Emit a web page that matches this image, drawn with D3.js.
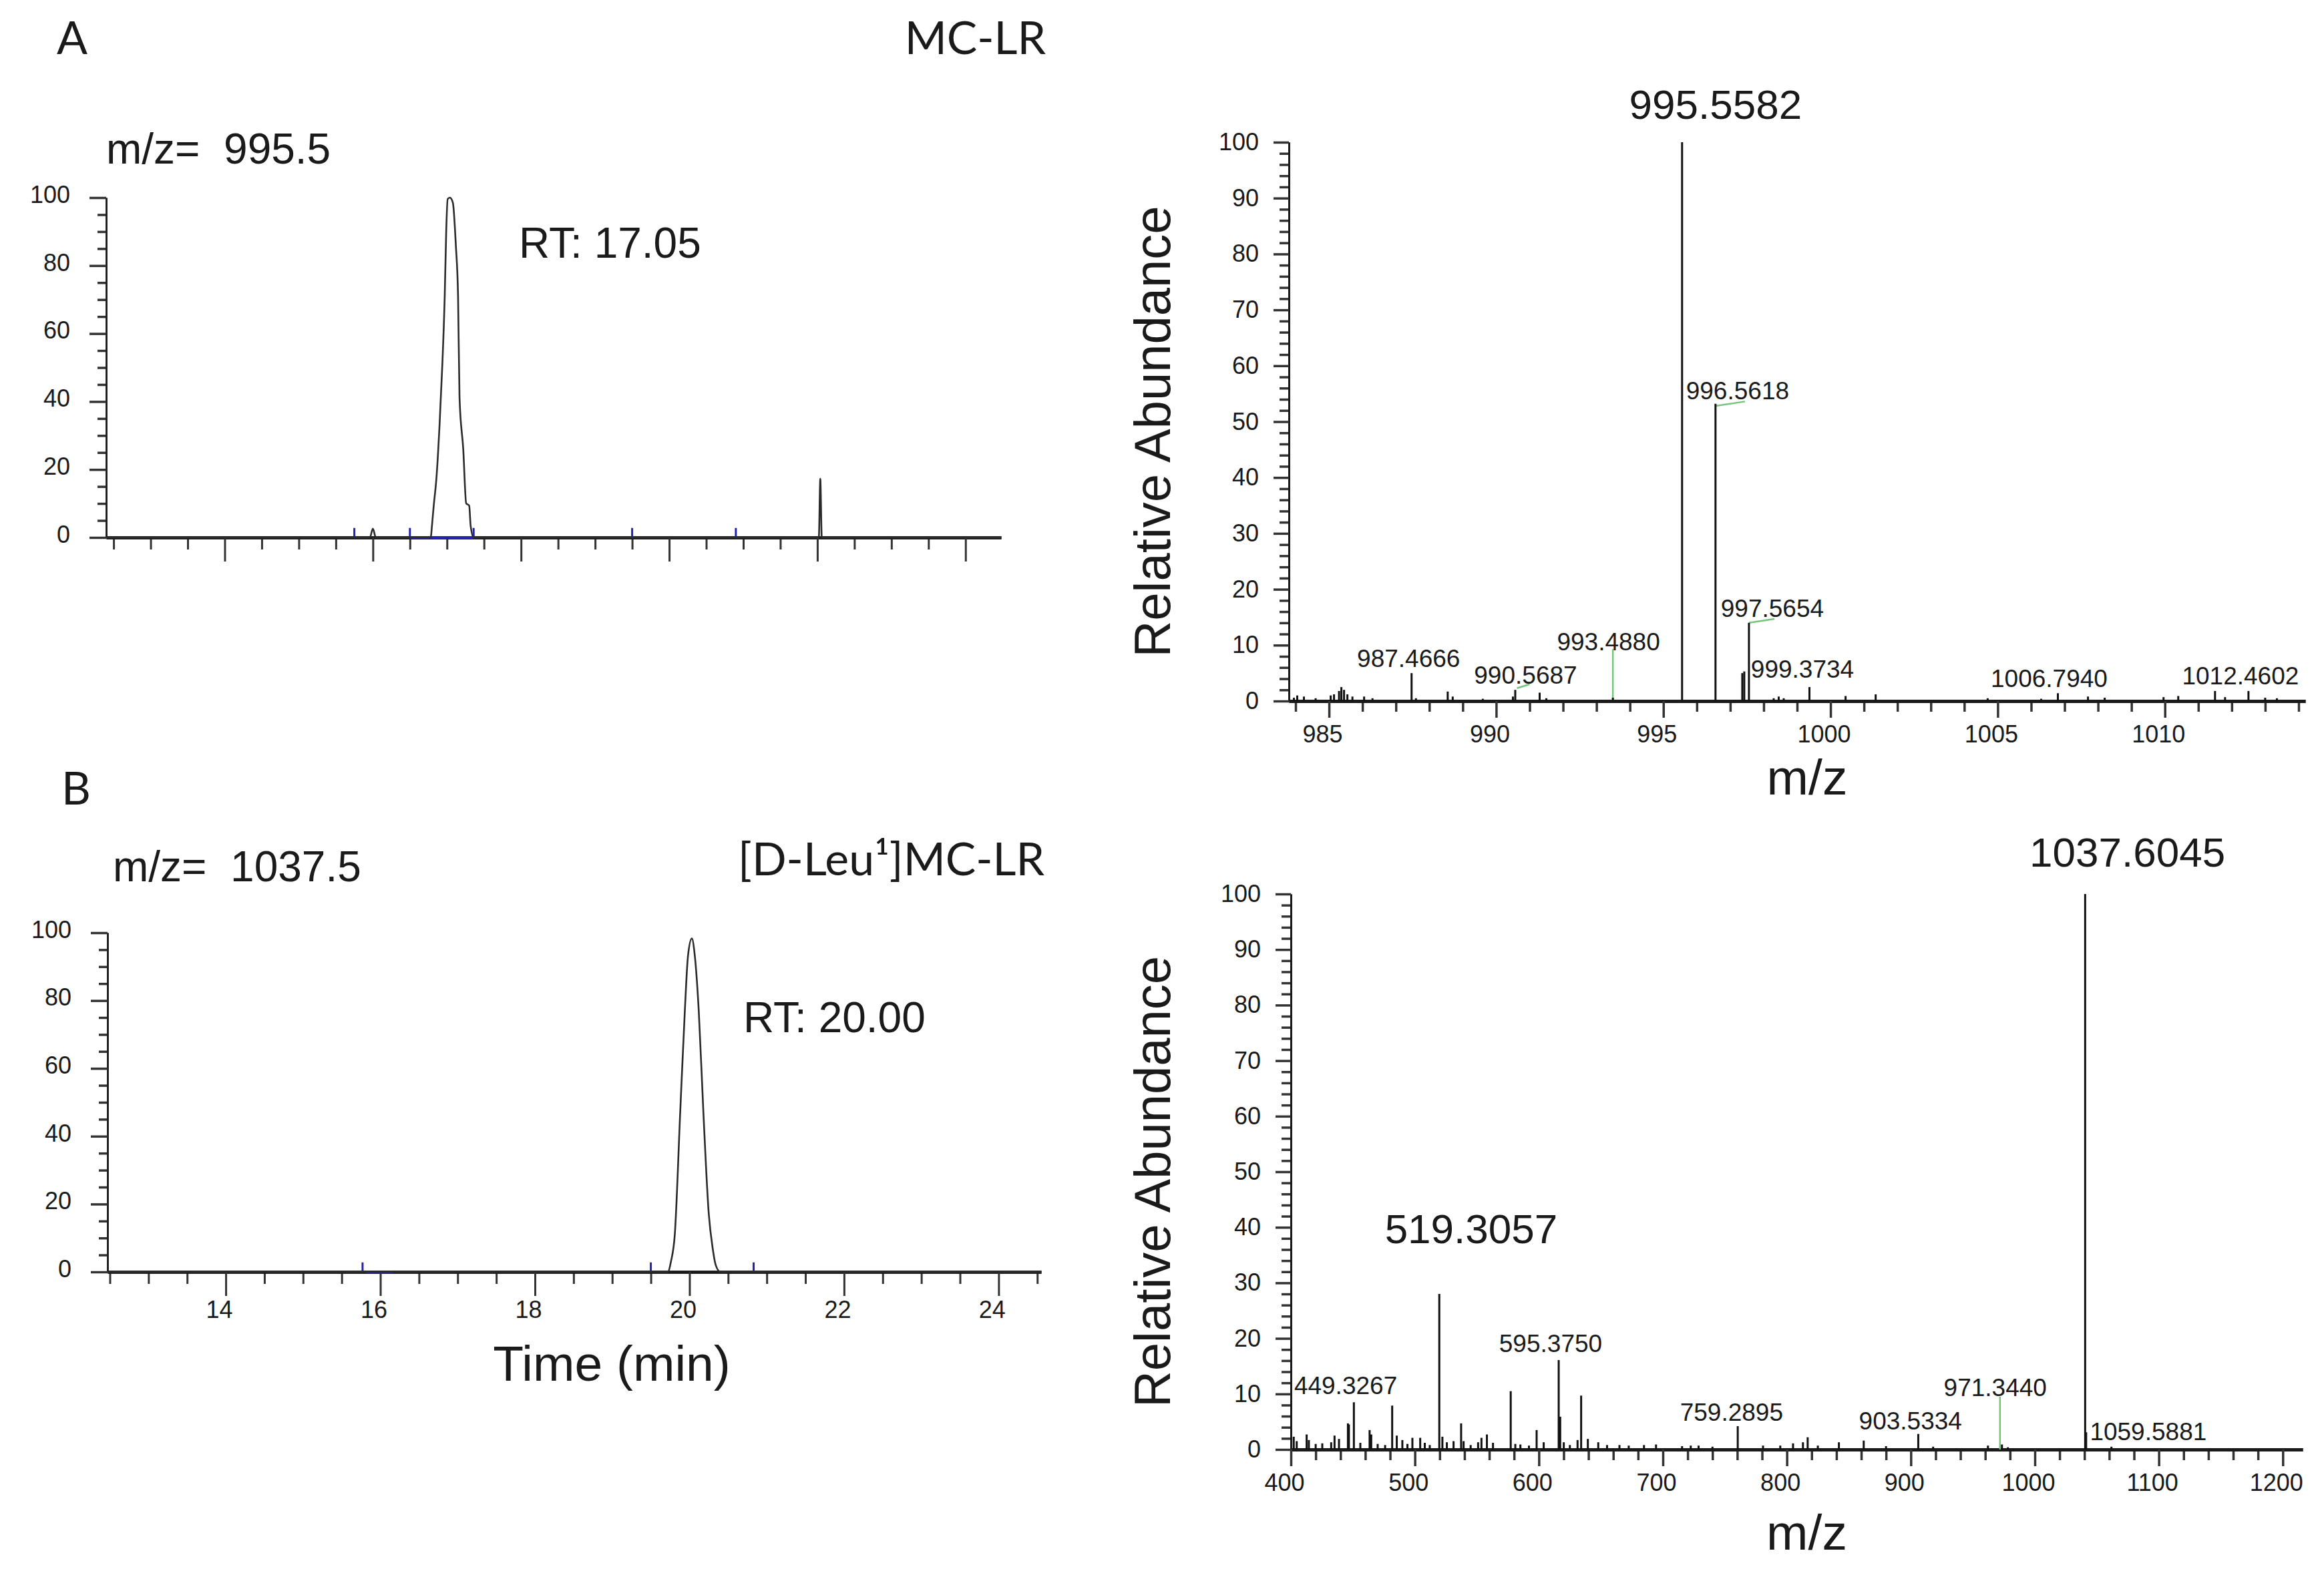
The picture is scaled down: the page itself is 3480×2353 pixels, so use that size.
<!DOCTYPE html>
<html>
<head>
<meta charset="utf-8">
<script src="https://cdn.jsdelivr.net/npm/d3@7"></script>
<style>
  body { margin: 0; background: #fff; }
</style>
</head>
<body>
<svg id="fig"></svg>
<script>
// ---- chromatogram A : m/z 995.5 (MC-LR) ----
const chromA_time = [12.40, 15.96, 16.00, 16.04, 16.78, 16.80, 16.82, 16.86, 16.90, 16.94, 16.97, 16.99, 17.01, 17.04,
                     17.08, 17.12, 17.15, 17.17, 17.22, 17.26, 17.30, 17.32, 17.36, 22.02, 22.04, 22.06, 24.48];
const chromA_int  = [0, 0, 2.6, 0, 0, 4, 9, 18, 33, 52, 71, 90, 99.6, 100,
                     98.5, 86, 71, 41, 26, 10, 9.4, 3.4, 0, 0, 17.3, 0, 0];
const chromA_marks = [15.75, 16.50, 17.36, 19.50, 20.90];   // blue integration marks
const chromA_base  = [16.50, 17.36];

// ---- chromatogram B : m/z 1037.5 ([D-Leu1]MC-LR) ----
const chromB_time = [12.47, 19.72, 19.76, 19.81, 19.88, 19.94, 19.98, 20.03, 20.07, 20.12, 20.18, 20.25, 20.30, 20.34, 20.40, 24.55];
const chromB_int  = [0, 0, 3, 11, 47, 77, 93, 98.3, 93, 77, 47, 17, 7, 2, 0, 0];
const chromB_marks = [15.77, 19.50, 20.83];
const chromB_base  = [15.82, 16.17];

const chromYTicks = [0, 20, 40, 60, 80, 100];
const chromXTicks = [14, 16, 18, 20, 22, 24];

// ---- mass spectrum A ----
const specA_mz  = [983.95, 984.05, 984.25, 984.6, 985.05, 985.15, 985.3, 985.37, 985.45, 985.55,
                   985.7, 986.05, 986.3, 987.47, 987.6, 988.55, 988.7, 989.6, 990.5, 990.57,
                   991.3, 991.5, 993.49, 995.56, 996.56, 997.36, 997.42, 997.56, 998.3, 998.45,
                   998.6, 999.37, 1000.45, 1001.35, 1004.7, 1006.3, 1006.8, 1007.7, 1008.2, 1009.96,
                   1010.4, 1011.5, 1011.8, 1012.5, 1013.0, 1013.35];
const specA_int = [0.6, 1.0, 0.8, 0.5, 1.0, 1.2, 1.8, 2.5, 2.0, 1.2,
                   0.8, 0.8, 0.5, 5.0, 0.5, 1.7, 0.8, 0.4, 0.8, 2.0,
                   1.5, 0.5, 0.6, 100, 53.2, 5.0, 5.3, 14.0, 0.5, 0.8,
                   0.5, 2.5, 0.9, 1.2, 0.5, 0.4, 1.4, 0.8, 0.6, 0.7,
                   0.9, 1.8, 0.7, 1.8, 0.6, 0.5];
const specA_labels   = ["996.5618", "997.5654", "987.4666", "990.5687", "993.4880", "999.3734", "1006.7940", "1012.4602"];
const specA_labelMz  = [997.22, 998.26, 987.38, 990.88, 993.36, 999.16, 1006.54, 1012.26];
const specA_labelAb  = [54.0, 15.0, 6.1, 3.1, 9.1, 4.2, 2.5, 3.0];
const specA_big      = ["995.5582"];
const specA_bigMz    = [996.56];
const specA_bigAb    = [104.2];
const specA_leadMz   = [[990.62, 991.0], [993.49, 993.49], [996.56, 997.44], [997.56, 998.32]];
const specA_leadAb   = [[2.3, 3.0], [0, 9.3], [52.8, 53.6], [14.0, 14.7]];
const specAXTicks = [985, 990, 995, 1000, 1005, 1010];

// ---- mass spectrum B ----
const specB_mz  = [402.3, 404.7, 412.7, 414.5, 420, 425.3, 432.5, 435.2, 438.8, 446,
                   446.8, 450.8, 456, 463.5, 464.8, 470, 476, 481.7, 485.4, 489.9,
                   494, 498, 504.3, 508, 512, 519.7, 522.2, 525.8, 531.2, 537.3,
                   539.3, 545, 551, 553.7, 558.1, 563, 577.3, 581, 585.1, 592,
                   598.2, 603.9, 616, 617.2, 620.1, 625, 631.2, 634.1, 639.5, 647.9,
                   655, 665, 672.5, 684.8, 694.5, 715.5, 722.5, 728.8, 740, 760.4,
                   780.8, 794.7, 805, 813, 816.8, 825, 842, 862, 880, 906,
                   918, 962.2, 973.5, 978.3, 1040.6, 1041.4, 1061.8];
const specB_int = [2.3, 1.5, 2.7, 1.7, 1.0, 1.1, 1.3, 2.5, 1.9, 4.7,
                   4.5, 8.5, 1.2, 3.5, 2.7, 1.0, 0.8, 7.9, 2.5, 1.7,
                   1.0, 2.1, 2.1, 1.2, 0.8, 28.0, 2.3, 1.3, 1.5, 4.7,
                   1.5, 0.8, 1.3, 2.1, 2.7, 1.2, 10.5, 1.0, 0.9, 0.7,
                   3.5, 1.3, 16.1, 5.9, 1.3, 0.8, 1.7, 9.7, 1.9, 1.3,
                   0.8, 0.8, 0.7, 0.8, 0.9, 0.6, 0.7, 0.7, 0.5, 4.2,
                   0.7, 0.7, 1.1, 1.3, 2.2, 0.7, 1.3, 1.6, 0.6, 2.8,
                   0.5, 0.7, 0.9, 0.4, 100, 3.1, 0.5];
const specB_labels   = ["449.3267", "595.3750", "759.2895", "903.5334", "971.3440", "1059.5881"];
const specB_labelMz  = [444.2, 609.5, 755.4, 899.7, 968.1, 1091.5];
const specB_labelAb  = [10.0, 17.5, 5.2, 3.6, 9.6, 1.7];
const specB_big      = ["1037.6045", "519.3057"];
const specB_bigMz    = [1074.7, 545.4];
const specB_bigAb    = [104.9, 37.1];
const specB_leadMz   = [[971.9, 971.9]];
const specB_leadAb   = [[0, 9.5]];
const specBXTicks = [400, 500, 600, 700, 800, 900, 1000, 1100, 1200];

const specYTicks = [0, 10, 20, 30, 40, 50, 60, 70, 80, 90, 100];

// ------------------------------------------------------------
const W = 3480, H = 2353;
const XCAL = "'Liberation Sans', Arial, sans-serif";
const CALIB = "Lato, Carlito, Calibri, sans-serif";
const INK = '#1a1a1a';

const svg = d3.select('#fig').attr('width', W).attr('height', H);
svg.append('rect').attr('width', W).attr('height', H).attr('fill', '#fff');

function styleAxis(g, lineW, domainW) {
    g.selectAll('.tick line').attr('stroke', '#333').attr('stroke-width', lineW);
    g.select('.domain').attr('stroke', INK).attr('stroke-width', domainW);
    g.selectAll('text').attr('font-family', XCAL).attr('font-size', 36).attr('fill', INK);
}

function text(x, y, str, size, family, anchor) {
    return svg.append('text')
        .attr('x', x).attr('y', y)
        .attr('font-family', family).attr('font-size', size)
        .attr('fill', INK).attr('text-anchor', anchor || 'start')
        .text(str);
}

function chromatogram(c) {
    const x = d3.scaleLinear().domain(c.xDomain).range(c.xRange);
    const y = d3.scaleLinear().domain([0, 100]).range(c.yRange);
    const g = svg.append('g');

    // y axis
    const yMinor = d3.range(0, 101, 5).filter(v => !chromYTicks.includes(v));
    g.append('g').attr('transform', `translate(${c.xRange[0]},0)`)
        .call(d3.axisLeft(y).tickValues(yMinor).tickSize(13).tickSizeOuter(0).tickFormat(''))
        .call(a => styleAxis(a, 3.5, 2.5));
    g.append('g').attr('transform', `translate(${c.xRange[0]},0)`)
        .call(d3.axisLeft(y).tickValues(chromYTicks).tickSize(25).tickPadding(29).tickSizeOuter(0))
        .call(a => styleAxis(a, 3.5, 2.5))
        .call(a => a.selectAll('text').attr('dy', '0.2em'));

    // x axis
    const xMinor = d3.range(12.5, 24.51, 0.5)
        .filter(v => v >= c.xDomain[0] && v <= c.xDomain[1] && !chromXTicks.includes(v));
    g.append('g').attr('transform', `translate(0,${c.yRange[0]})`)
        .call(d3.axisBottom(x).tickValues(xMinor).tickSize(18).tickSizeOuter(0).tickFormat(''))
        .call(a => styleAxis(a, 3, 4.5));
    g.append('g').attr('transform', `translate(0,${c.yRange[0]})`)
        .call(d3.axisBottom(x).tickValues(chromXTicks).tickSize(36).tickPadding(7).tickSizeOuter(0)
            .tickFormat(c.showXLabels ? d3.format('d') : ''))
        .call(a => styleAxis(a, 3, 4.5))
        .call(a => a.selectAll('text').attr('dx', -10));

    // integration marks
    g.append('line')
        .attr('x1', x(c.base[0])).attr('x2', x(c.base[1]))
        .attr('y1', y(0)).attr('y2', y(0))
        .attr('stroke', '#2424a8').attr('stroke-width', 4);
    g.selectAll('.mark').data(c.marks).enter().append('line')
        .attr('x1', d => x(d)).attr('x2', d => x(d))
        .attr('y1', y(0)).attr('y2', y(2.8))
        .attr('stroke', '#2424a8').attr('stroke-width', 3);

    // trace
    const line = d3.line().x(d => x(d[0])).y(d => y(d[1])).curve(d3.curveMonotoneX);
    g.append('path').datum(d3.zip(c.time, c.int))
        .attr('d', line).attr('fill', 'none')
        .attr('stroke', '#2b2b2b').attr('stroke-width', 2.6);
}

function spectrum(s) {
    const x = d3.scaleLinear().domain(s.xDomain).range(s.xRange);
    const y = d3.scaleLinear().domain([0, 100]).range(s.yRange);
    const g = svg.append('g');

    const yMinor = d3.range(0, 101, 2).filter(v => !specYTicks.includes(v));
    g.append('g').attr('transform', `translate(${s.xRange[0]},0)`)
        .call(d3.axisLeft(y).tickValues(yMinor).tickSize(14).tickSizeOuter(0).tickFormat(''))
        .call(a => styleAxis(a, 3.5, 3));
    g.append('g').attr('transform', `translate(${s.xRange[0]},0)`)
        .call(d3.axisLeft(y).tickValues(specYTicks).tickSize(23).tickPadding(22).tickSizeOuter(0))
        .call(a => styleAxis(a, 3.5, 3));

    const xMinor = d3.range(s.minorStart, s.xDomain[1], s.minorStep)
        .filter(v => v >= s.xDomain[0] && !s.xTicks.includes(v));
    g.append('g').attr('transform', `translate(0,${s.yRange[0]})`)
        .call(d3.axisBottom(x).tickValues(xMinor).tickSize(16).tickSizeOuter(0).tickFormat(''))
        .call(a => styleAxis(a, 3.5, 5));
    g.append('g').attr('transform', `translate(0,${s.yRange[0]})`)
        .call(d3.axisBottom(x).tickValues(s.xTicks).tickSize(25).tickPadding(11).tickSizeOuter(0)
            .tickFormat(d3.format('d')))
        .call(a => styleAxis(a, 3.5, 5))
        .call(a => a.selectAll('text').attr('dx', -10));

    // label leaders
    g.selectAll('.lead').data(d3.zip(s.leadMz, s.leadAb)).enter().append('line')
        .attr('x1', d => x(d[0][0])).attr('x2', d => x(d[0][1]))
        .attr('y1', d => y(d[1][0])).attr('y2', d => y(d[1][1]))
        .attr('stroke', '#74c47a').attr('stroke-width', 2.5);

    // sticks
    g.selectAll('.stick').data(d3.zip(s.mz, s.int)).enter().append('line')
        .attr('x1', d => x(d[0])).attr('x2', d => x(d[0]))
        .attr('y1', y(0)).attr('y2', d => y(d[1]))
        .attr('stroke', '#111').attr('stroke-width', 3);

    // peak labels
    g.selectAll('.lab').data(d3.zip(s.labels, s.labelMz, s.labelAb)).enter().append('text')
        .attr('x', d => x(d[1])).attr('y', d => y(d[2]))
        .attr('text-anchor', 'middle').attr('font-family', XCAL).attr('font-size', 37)
        .attr('fill', INK).text(d => d[0]);
    g.selectAll('.big').data(d3.zip(s.big, s.bigMz, s.bigAb)).enter().append('text')
        .attr('x', d => x(d[1])).attr('y', d => y(d[2]))
        .attr('text-anchor', 'middle').attr('font-family', XCAL).attr('font-size', 62)
        .attr('fill', INK).text(d => d[0]);

    // axis titles
    g.append('text')
        .attr('transform', `translate(1752,${(s.yRange[0] + s.yRange[1]) / 2 + 15}) rotate(-90)`)
        .attr('text-anchor', 'middle').attr('font-family', XCAL).attr('font-size', 76)
        .attr('fill', INK).text('Relative Abundance');
    g.append('text')
        .attr('x', (s.xRange[0] + s.xRange[1]) / 2 + 15).attr('y', s.yRange[0] + s.titleGap)
        .attr('text-anchor', 'middle').attr('font-family', XCAL).attr('font-size', 75)
        .attr('fill', INK).text('m/z');
}

// panel A
text(85, 81, 'A', 68, CALIB);
text(1566, 81, 'MC-LR', 68, CALIB, 'end');
text(159, 245, 'm/z=\u00a0 995.5', 64, XCAL);
text(777, 386, 'RT: 17.05', 64, XCAL);
chromatogram({
    time: chromA_time, int: chromA_int, marks: chromA_marks, base: chromA_base,
    xDomain: [12.40, 24.48], xRange: [159, 1499], yRange: [805, 296], showXLabels: false
});
spectrum({
    mz: specA_mz, int: specA_int,
    labels: specA_labels, labelMz: specA_labelMz, labelAb: specA_labelAb,
    big: specA_big, bigMz: specA_bigMz, bigAb: specA_bigAb,
    leadMz: specA_leadMz, leadAb: specA_leadAb,
    xDomain: [983.8, 1014.2], xRange: [1930, 3452], yRange: [1050, 213],
    xTicks: specAXTicks, minorStart: 984, minorStep: 1, titleGap: 140
});

// panel B
text(92, 1205, 'B', 68, CALIB);
text(1564, 1311, '[D-Leu\u00b9]MC-LR', 68, CALIB, 'end');
text(169, 1320, 'm/z=\u00a0 1037.5', 64, XCAL);
text(1113, 1546, 'RT: 20.00', 64, XCAL);
chromatogram({
    time: chromB_time, int: chromB_int, marks: chromB_marks, base: chromB_base,
    xDomain: [12.47, 24.55], xRange: [161, 1559], yRange: [1905, 1397], showXLabels: true
});
text(916, 2068, 'Time (min)', 75, XCAL, 'middle');
spectrum({
    mz: specB_mz, int: specB_int,
    labels: specB_labels, labelMz: specB_labelMz, labelAb: specB_labelAb,
    big: specB_big, bigMz: specB_bigMz, bigAb: specB_bigAb,
    leadMz: specB_leadMz, leadAb: specB_leadAb,
    xDomain: [400, 1216], xRange: [1933, 3448], yRange: [2171, 1339],
    xTicks: specBXTicks, minorStart: 400, minorStep: 20, titleGap: 150
});
</script>
</body>
</html>
